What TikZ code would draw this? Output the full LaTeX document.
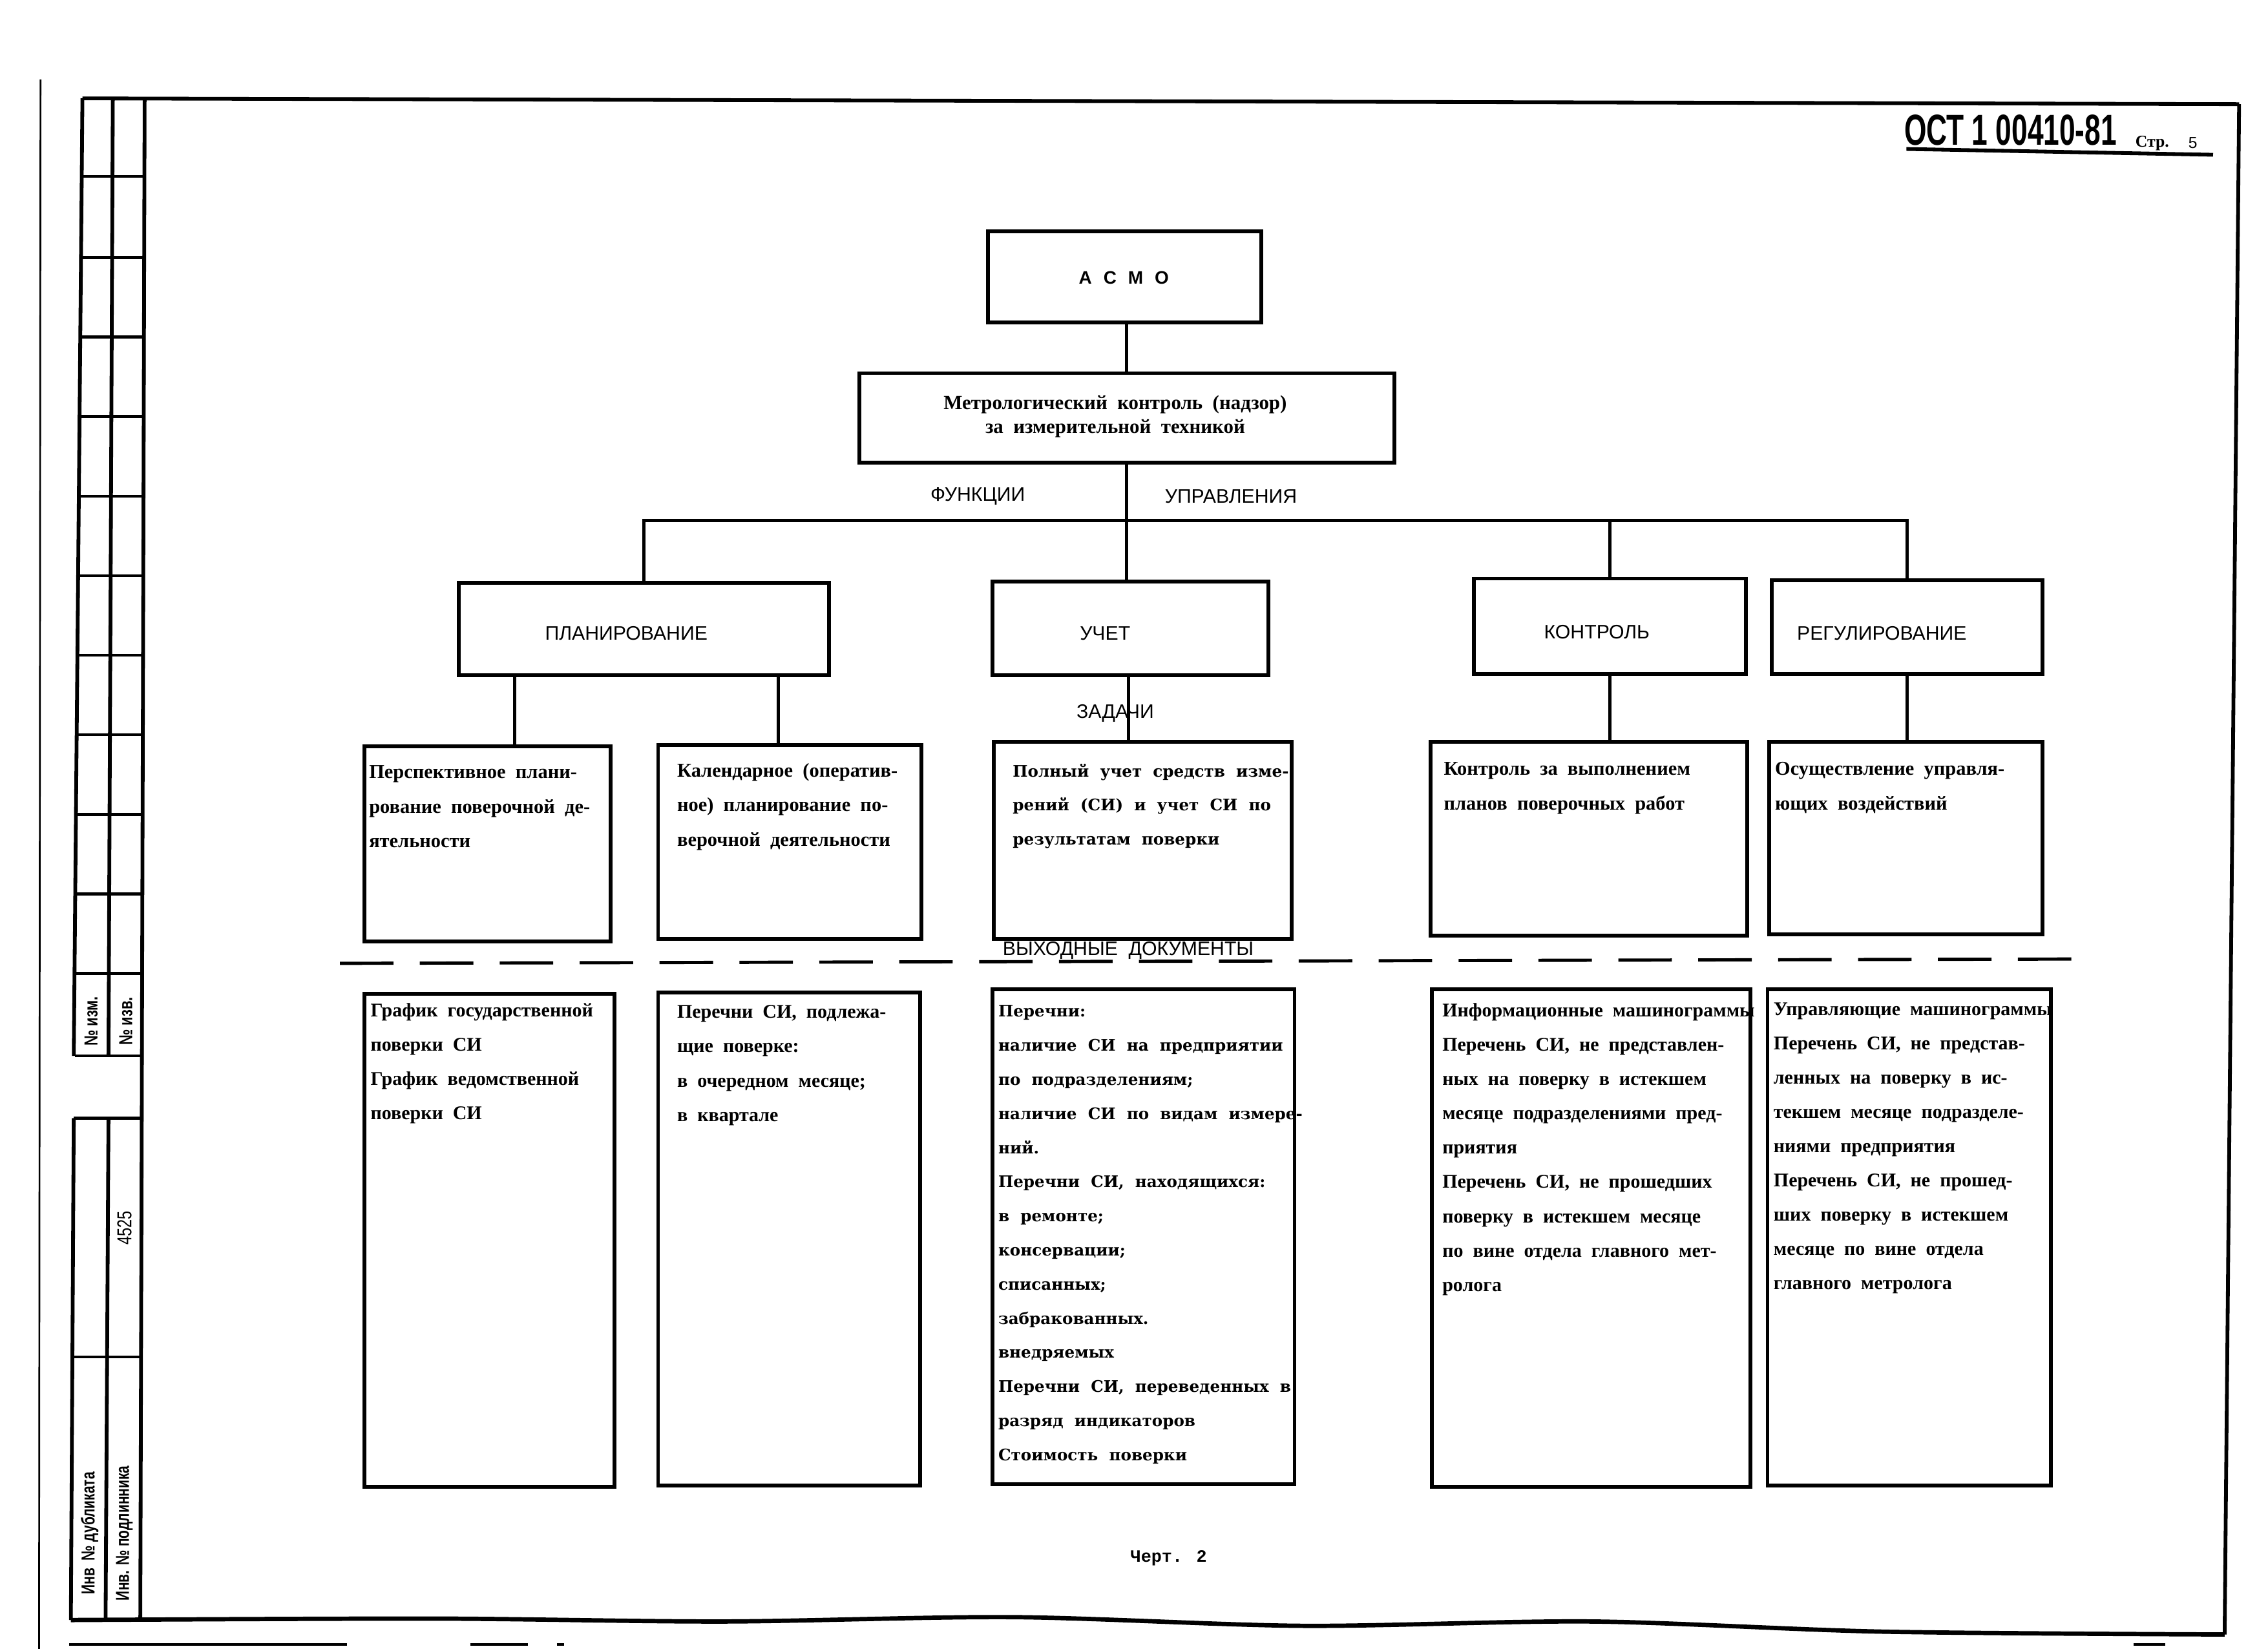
\documentclass[tikz,border=0pt]{standalone}
\usepackage{fontspec}
\setmainfont{Liberation Serif}
\newfontfamily\sansf{Liberation Sans}
\newfontfamily\wideserif{DejaVu Serif}
\newfontfamily\monof{Liberation Mono}
\usetikzlibrary{calc}
\begin{document}
\begin{tikzpicture}[x=1pt,y=-1pt,
  box/.style={draw, line width=2.6pt, inner sep=0pt, rectangle},
  link/.style={line width=2.2pt},
  frame/.style={line width=2.6pt},
  title/.style={font=\sansf\fontsize{13.5}{16}\selectfont, inner sep=0pt},
  txt/.style={anchor=base west, inner sep=0pt, font=\bfseries\fontsize{13.6}{24}\selectfont},
  otxt/.style={anchor=base west, inner sep=0pt, font=\bfseries\fontsize{13.4}{23.7}\selectfont},
  wtxt/.style={anchor=base west, inner sep=0pt, font=\wideserif\bfseries\fontsize{11}{23.6}\selectfont},
  stamp/.style={rotate=90, inner sep=0pt, font=\sansf\bfseries\fontsize{13}{13}\selectfont}
]
\useasboundingbox (0,0) rectangle (1568,1140);

% ---- sheet frame ----
\draw[line width=1.2pt] (28,55) -- (27,1140);
\draw[frame] (57,68) -- (1548,72);
\draw[frame] (1548,72) -- (1538,1130);
\draw[frame] (100,68) -- (97,1120);
\draw[line width=3pt] plot[smooth] coordinates {(49,1120) (300,1119) (500,1121) (700,1118) (900,1124) (1100,1121) (1300,1128) (1538,1130)};
\draw[line width=2pt] (48,1137) -- (240,1137);
\draw[line width=2pt] (325,1137) -- (365,1137);
\draw[line width=2pt] (385,1137) -- (390,1137);
\draw[line width=2pt] (1475,1137) -- (1497,1137);

% ---- stamp column ----
\draw[frame] (57,68) -- (51,730);
\draw[frame] (78,68) -- (75,730);
\foreach \yy in {122,178,233,288,343,398,453,508,563,618,673,730}
  \draw[line width=2pt] ({57-8*(\yy-68)/1052},\yy) -- ({100-3*(\yy-68)/1052},\yy);
\draw[frame] (51,773) -- (49,1120);
\draw[frame] (75,773) -- (73,1120);
\draw[line width=2pt] (51,773) -- (99,773);
\draw[line width=2pt] (50,938) -- (98,938);
\node[stamp] (izm) at (63,706) {\scalebox{0.75}[1]{№ изм.}};
\node[stamp] (izv) at (87,706) {\scalebox{0.75}[1]{№ изв.}};
\node[stamp, font=\sansf\fontsize{14}{14}\selectfont] (num) at (86,849) {\scalebox{0.75}[1]{4525}};
\node[stamp] (dubl) at (62,1060) {\scalebox{0.72}[1]{Инв\ \ № дубликата}};
\node[stamp] (podl) at (86,1060) {\scalebox{0.72}[1]{Инв. № подлинника}};

% ---- header ----
\node[inner sep=0pt, font=\sansf\bfseries\fontsize{30}{30}\selectfont] (ost) at (1390,90) {\scalebox{0.66}[1]{ОСТ 1 00410-81}};
\node[inner sep=0pt, font=\bfseries\fontsize{11.5}{11}\selectfont] (str) at (1488,99) {Стр.};
\node[inner sep=0pt, font=\sansf\fontsize{11}{11}\selectfont] (pg) at (1516,99) {5};
\draw[line width=2.6pt] (1318,103) -- (1530,107);

% ---- top boxes ----
\node[box, minimum width=189pt, minimum height=63pt] (asmo) at (777.5,191.5) {};
\node[inner sep=0pt, font=\sansf\bfseries\fontsize{12.5}{13}\selectfont] (asmot) at (777,192) {А\hspace{8pt}С\hspace{8pt}М\hspace{8pt}О};
\node[box, minimum width=370pt, minimum height=62pt] (metro) at (779,289) {};
\node[inner sep=0pt, align=center, font=\bfseries\fontsize{13.8}{16.5}\selectfont] (metrot) at (771,288) {Метрологический\ \ контроль\ \ (надзор)\\за\ \ измерительной\ \ техникой};

\node[title] (fun) at (676,343) {ФУНКЦИИ};
\node[title] (upr) at (851,343) {УПРАВЛЕНИЯ};

% ---- function boxes ----
\node[box, minimum width=256pt, minimum height=64pt] (plan) at (445,435) {};
\node[box, minimum width=191pt, minimum height=65pt] (uchet) at (781.5,434.5) {};
\node[box, minimum width=188pt, minimum height=66pt] (kontr) at (1113,433) {};
\node[box, minimum width=187pt, minimum height=65pt] (reg) at (1318.5,433.5) {};
\node[title] (plant) at (433,438) {ПЛАНИРОВАНИЕ};
\node[title] (uchett) at (764,438) {УЧЕТ};
\node[title] (kontrt) at (1104,437) {КОНТРОЛЬ};
\node[title] (regt) at (1301,438) {РЕГУЛИРОВАНИЕ};

% bus
\coordinate (bus) at (0,360);
\coordinate (mx) at (779,0);
\draw[link] (asmo.south -| mx) -- (metro.north -| mx);
\draw[link] (metro.south -| mx) -- (uchet.north -| mx);
\draw[link] (plan.north) -- (plan.north |- bus) -- (reg.north |- bus) -- (reg.north);
\draw[link] (kontr.north |- bus) -- (kontr.north);

% ---- task boxes ----
\node[box, minimum width=170pt, minimum height=135pt] (t1) at (337,583.5) {};
\node[box, minimum width=182pt, minimum height=134pt] (t2) at (546,582) {};
\node[box, minimum width=206pt, minimum height=136pt] (t3) at (790,581) {};
\node[box, minimum width=219pt, minimum height=134pt] (t4) at (1098.5,580) {};
\node[box, minimum width=189pt, minimum height=133pt] (t5) at (1317.5,579.5) {};

\coordinate (c1) at (356,0);
\coordinate (c2) at (538,0);
\coordinate (c3) at (780,0);
\draw[link] (plan.south -| c1) -- (t1.north -| c1);
\draw[link] (plan.south -| c2) -- (t2.north -| c2);
\draw[link] (uchet.south -| c3) -- (t3.north -| c3);
\draw[link] (kontr.south) -- (kontr.south |- t4.north);
\draw[link] (reg.south) -- (reg.south |- t5.north);
\node[title] (zad) at (771,493) {ЗАДАЧИ};

\node[txt] (t1t) at (255,538) {\parbox[t]{200pt}{\raggedright Перспективное\ \ плани-\\рование\ \ поверочной\ \ де-\\ятельности}};
\node[txt] (t2t) at (468,537) {\parbox[t]{200pt}{\raggedright Календарное\ \ (оператив-\\ное)\ \ планирование\ \ по-\\верочной\ \ деятельности}};
\node[wtxt] (t3t) at (700,537) {\parbox[t]{220pt}{\raggedright Полный\ \ учет\ \ средств\ \ изме-\\рений\ \ (СИ)\ \ и\ \ учет\ \ СИ\ \ по\\результатам\ \ поверки}};
\node[txt] (t4t) at (998,536) {\parbox[t]{220pt}{\raggedright Контроль\ \ за\ \ выполнением\\планов\ \ поверочных\ \ работ}};
\node[txt] (t5t) at (1227,536) {\parbox[t]{200pt}{\raggedright Осуществление\ \ управля-\\ющих\ \ воздействий}};

% ---- dashed divider ----
\draw[line width=2.2pt, dash pattern=on 37pt off 18.24pt] (235,666) -- (1432,663);
\node[inner sep=0pt, font=\sansf\fontsize{13.5}{14}\selectfont] (vyh) at (780,657) {ВЫХОДНЫЕ\ \ ДОКУМЕНТЫ};

% ---- output boxes ----
\node[box, minimum width=173pt, minimum height=341pt] (o1) at (338.5,857.5) {};
\node[box, minimum width=181pt, minimum height=341pt] (o2) at (545.5,856.5) {};
\node[box, minimum width=209pt, minimum height=342pt] (o3) at (790.5,855) {};
\node[box, minimum width=220pt, minimum height=344pt] (o4) at (1100,856) {};
\node[box, minimum width=196pt, minimum height=343pt] (o5) at (1320,855.5) {};

\node[otxt] (o1t) at (256,703) {\parbox[t]{200pt}{\raggedright График\ \ государственной\\поверки\ \ СИ\\График\ \ ведомственной\\поверки\ \ СИ}};
\node[otxt] (o2t) at (468,704) {\parbox[t]{200pt}{\raggedright Перечни\ \ СИ,\ \ подлежа-\\щие\ \ поверке:\\в\ \ очередном\ \ месяце;\\в\ \ квартале}};
\node[wtxt] (o3t) at (690,703) {\parbox[t]{230pt}{\raggedright Перечни:\\наличие\ \ СИ\ \ на\ \ предприятии\\по\ \ подразделениям;\\наличие\ \ СИ\ \ по\ \ видам\ \ измере-\\ний.\\Перечни\ \ СИ,\ \ находящихся:\\в\ \ ремонте;\\консервации;\\списанных;\\забракованных.\\внедряемых\\Перечни\ \ СИ,\ \ переведенных\ \ в\\разряд\ \ индикаторов\\Стоимость\ \ поверки}};
\node[otxt] (o4t) at (997,703) {\parbox[t]{240pt}{\raggedright Информационные\ \ машинограммы\\Перечень\ \ СИ,\ \ не\ \ представлен-\\ных\ \ на\ \ поверку\ \ в\ \ истекшем\\месяце\ \ подразделениями\ \ пред-\\приятия\\Перечень\ \ СИ,\ \ не\ \ прошедших\\поверку\ \ в\ \ истекшем\ \ месяце\\по\ \ вине\ \ отдела\ \ главного\ \ мет-\\ролога}};
\node[otxt] (o5t) at (1226,702) {\parbox[t]{220pt}{\raggedright Управляющие\ \ машинограммы\\Перечень\ \ СИ,\ \ не\ \ представ-\\ленных\ \ на\ \ поверку\ \ в\ \ ис-\\текшем\ \ месяце\ \ подразделе-\\ниями\ \ предприятия\\Перечень\ \ СИ,\ \ не\ \ прошед-\\ших\ \ поверку\ \ в\ \ истекшем\\месяце\ \ по\ \ вине\ \ отдела\\главного\ \ метролога}};

\node[inner sep=0pt, font=\monof\bfseries\fontsize{12}{12}\selectfont] (chert) at (808,1077) {Черт. 2};
\end{tikzpicture}
\end{document}
